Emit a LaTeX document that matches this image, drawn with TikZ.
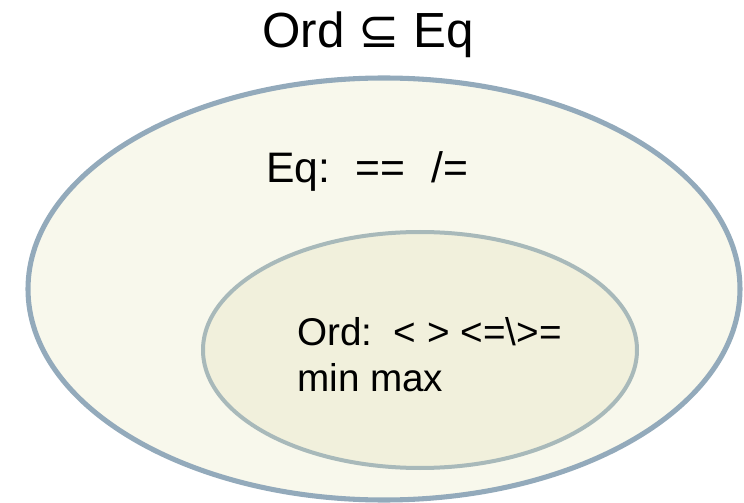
\documentclass[tikz,border=0pt]{standalone}
\usepackage{fontspec}
\setmainfont{Liberation Sans}
\newfontfamily\symfont{DejaVu Sans}
\usepackage{xcolor}
\definecolor{outerline}{HTML}{93AABB}
\definecolor{outerfill}{HTML}{F8F8EC}
\definecolor{innerline}{HTML}{A8B9BA}
\definecolor{innerfill}{HTML}{F1F0DC}

\begin{document}
\begin{tikzpicture}[x=0.75pt,y=-0.75pt]
              \useasboundingbox (0,0) rectangle (744,503);
              \filldraw[fill=outerfill, draw=outerline, line width=3.8pt] (384,289) ellipse (356 and 211);
              \filldraw[fill=innerfill, draw=innerline, line width=3pt] (420,350) ellipse (217 and 118);
              \node[anchor=base, inner sep=0] (title) at (368,48) {\fontsize{37}{44}\selectfont Ord {\symfont ⊆} Eq};
              \node[anchor=base west, inner sep=0] (eqline) at (266,183) {\fontsize{32}{38}\selectfont Eq:\hspace{0.6em}==\hspace{0.6em}/=};
              \node[anchor=base west, inner sep=0] (ordline) at (297,345) {\fontsize{29}{34}\selectfont Ord:\ \ < > <=\textbackslash>=};
              \node[anchor=base west, inner sep=0] (minmax) at (297,391) {\fontsize{29}{34}\selectfont min max};
            \end{tikzpicture}
\end{document}
